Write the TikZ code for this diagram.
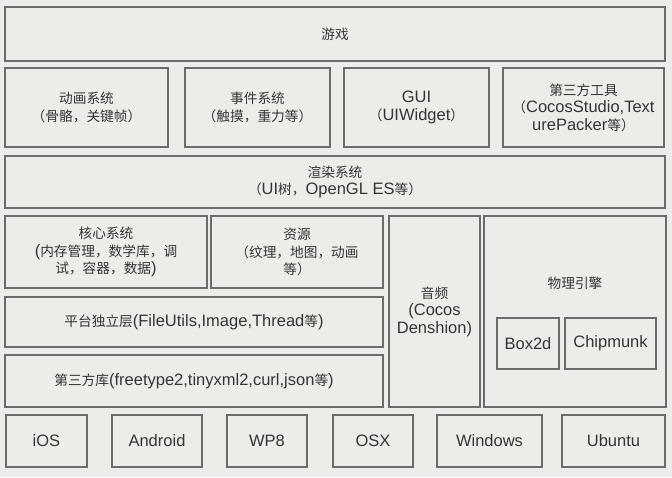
\documentclass[tikz,border=0pt]{standalone}
\usepackage{fontspec}
\setmainfont{Liberation Sans}
\newfontfamily\cjk{Noto Sans CJK SC}[Scale=0.83]
\newcommand{\zh}[1]{{\cjk #1}}
\definecolor{bg}{HTML}{ECECE8}
\definecolor{linec}{HTML}{6C6C6C}
\definecolor{txt}{HTML}{353535}
\newcommand{\archbox}[6]{%
  \node[box, minimum width={(#4-#2)*1pt}, minimum height={(#5-#3)*1pt}] (#1) at ({(#2+#4)/2},{(#3+#5)/2}) {#6};}
\begin{document}
\begin{tikzpicture}[x=1pt,y=-1pt,
  box/.style={draw=linec, line width=1.2pt, fill=bg, text=txt, align=center, inner sep=0pt,
    font=\fontsize{16.5}{17.5}\selectfont},
  lbl/.style={text=txt, align=center, inner sep=0pt, font=\fontsize{16.5}{17.5}\selectfont}]
\fill[bg] (0,0) rectangle (672,477);
\useasboundingbox (0,0) rectangle (672,477);
\archbox{game}{5}{7}{665}{61}{\zh{游戏}}
\archbox{anim}{5}{68}{168}{147}{\zh{动画系统}\\\zh{（骨骼，关键帧）}}
\archbox{event}{185}{68}{330}{147}{\zh{事件系统}\\\zh{（触摸，重力等）}}
\archbox{gui}{344}{68}{489}{147}{GUI\\\zh{（}UIWidget\zh{）}}
\archbox{tools}{503}{68}{664}{147}{\zh{第三方工具}\\\zh{（}CocosStudio,Text\\urePacker\zh{等）}}
\archbox{render}{5}{156}{665}{208}{\zh{渲染系统}\\\zh{（}UI\zh{树，}OpenGL ES\zh{等）}}
\archbox{core}{5}{216}{207}{288}{\zh{核心系统}\\(\zh{内存管理，数学库，调}\\\zh{试，容器，数据})}
\archbox{res}{211}{216}{383}{288}{\zh{资源}\\\zh{（纹理，地图，动画}\\\zh{等）}}
\archbox{audio}{389}{216}{480}{407}{\zh{音频}\\(Cocos\\Denshion)}
\archbox{phys}{484}{216}{666}{407}{}
\node[lbl] (physlbl) at (575,283) {\zh{物理引擎}};
\archbox{box2d}{497}{318}{559}{369}{Box2d}
\archbox{chip}{565}{318}{656}{369}{Chipmunk}
\archbox{plat}{5}{297}{383}{347}{\zh{平台独立层}(FileUtils,Image,Thread\zh{等})}
\archbox{third}{5}{355}{383}{407}{\zh{第三方库}(freetype2,tinyxml2,curl,json\zh{等})}
\archbox{ios}{6}{415}{87}{467}{iOS}
\archbox{android}{112}{415}{202}{467}{Android}
\archbox{wp8}{227}{415}{307}{467}{WP8}
\archbox{osx}{333}{415}{413}{467}{OSX}
\archbox{win}{437}{415}{542}{467}{Windows}
\archbox{ubuntu}{562}{415}{665}{467}{Ubuntu}
\end{tikzpicture}
\end{document}
